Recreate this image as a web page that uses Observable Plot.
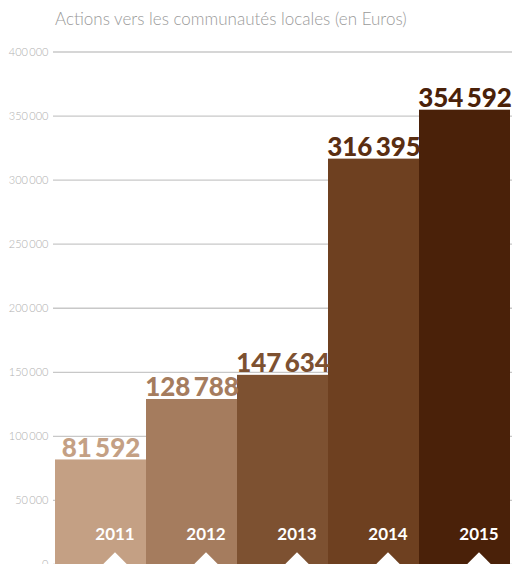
<!DOCTYPE html>
<html>
<head>
<meta charset="utf-8">
<script src="https://cdn.jsdelivr.net/npm/d3@7"></script>
<script src="https://cdn.jsdelivr.net/npm/@observablehq/plot@0.6"></script>
<style>
  body { margin: 0; background: #fff; font-family: Lato, "Open Sans", sans-serif; }
  #title { height: 40px; box-sizing: border-box; padding: 9px 0 0 55px; font-size: 17px; font-weight: 300; color: #9a9a9a; line-height: 20px; white-space: nowrap; }
  svg { display: block; }
</style>
</head>
<body>
<div id="title">Actions vers les communautés locales (en Euros)</div>
<div id="chart"></div>
<script>
const years = ["2011", "2012", "2013", "2014", "2015"];
const values = [81592, 128788, 147634, 316395, 354592];
const barColors = ["#c4a084", "#a57c5e", "#7d5131", "#6e4020", "#4a2109"];
const labelColors = ["#c4a084", "#a57c5e", "#7d5131", "#5a2e12", "#4a2109"];
const yTicks = [0, 50000, 100000, 150000, 200000, 250000, 300000, 350000, 400000];

const data = years.map((year, i) => ({year, value: values[i], bar: barColors[i], label: labelColors[i]}));

const loc = d3.formatLocale({decimal: ",", thousands: "\u2009", grouping: [3], currency: ["", " €"]});
const fmt = loc.format(",d");

const chart = Plot.plot({
  width: 514,
  height: 540,
  marginTop: 11.5,
  marginBottom: 16,
  marginLeft: 53,
  marginRight: 2,
  style: {fontFamily: "Lato, 'Open Sans', sans-serif", overflow: "visible"},
  x: {domain: years, padding: 0, axis: null},
  y: {domain: [0, 400000], axis: null},
  marks: [
    Plot.ruleY(yTicks, {stroke: "#c8c8c8", strokeWidth: 1.3}),
    Plot.text(yTicks, {y: d => d, text: d => fmt(d), frameAnchor: "left", textAnchor: "end", dx: -5, fill: "#b0b0b0", fontSize: 11, fontWeight: 300}),
    Plot.barY(data, {x: "year", y: "value", fill: "bar", inset: 0}),
    Plot.text(data, {x: "year", y: "value", text: d => fmt(d.value), fill: "label", fontSize: 26, fontWeight: 900, lineAnchor: "bottom", dy: -3, letterSpacing: "-0.6px"}),
    Plot.text(data, {x: "year", y: 0, text: "year", fill: "white", fontSize: 17, fontWeight: 700, lineAnchor: "bottom", dx: 14, dy: -25}),
    Plot.dot(data, {x: "year", y: 0, symbol: "diamond2", r: 11, fill: "white", stroke: null, dx: 14})
  ]
});
document.getElementById("chart").appendChild(chart);
</script>
</body>
</html>
